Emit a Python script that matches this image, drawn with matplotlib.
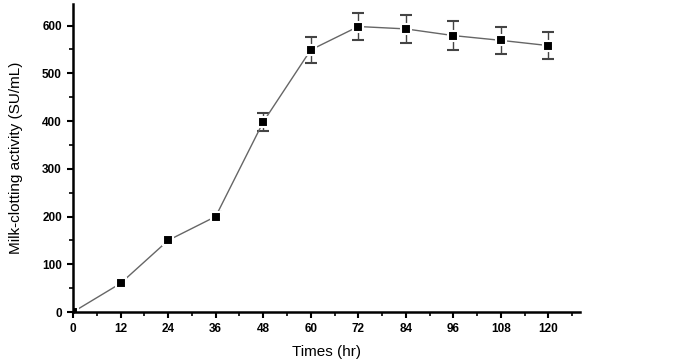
import numpy as np
import matplotlib.pyplot as plt

# milk-clotting activity over time
hours = [0, 12, 24, 36, 48, 60, 72, 84, 96, 108, 120]
activity = [0, 60, 150, 200, 398, 549, 598, 593, 579, 569, 558]
err = [0, 0, 0, 10, 19, 27, 29, 29, 30, 29, 28]

plt.rcParams['font.family'] = ['Liberation Sans', 'DejaVu Sans']

fig = plt.figure(figsize=(6.85, 3.61), dpi=100)
ax = fig.add_axes([0.1066, 0.1357, 0.7404, 0.853])

ax.errorbar(hours, activity, yerr=err, color='#666666', lw=1.0,
            marker='s', markersize=7, markerfacecolor='black',
            markeredgecolor='white', markeredgewidth=1.5,
            ecolor='#444444', elinewidth=1.0, capsize=4, capthick=1.0)

ax.set_xlim(0, 128)
ax.set_ylim(0, 645)
ax.set_xticks(np.arange(0, 121, 12))
ax.set_xticks(np.arange(6, 128, 12), minor=True)
ax.set_yticks(np.arange(0, 601, 100))
ax.set_yticks(np.arange(50, 645, 100), minor=True)

for s in ['top', 'right']:
    ax.spines[s].set_visible(False)
for s in ['left', 'bottom']:
    ax.spines[s].set_linewidth(1.8)

ax.tick_params(which='major', direction='out', length=4, width=1.5, labelsize=8.5, pad=4)
ax.tick_params(which='minor', direction='out', length=3, width=1.2)
for lab in ax.get_xticklabels() + ax.get_yticklabels():
    lab.set_fontweight('bold')

ax.set_xlabel('Times (hr)', fontsize=11, labelpad=7)
ax.set_ylabel('Milk-clotting activity (SU/mL)', fontsize=11, labelpad=14)

fig.savefig('out.png', dpi=100)
